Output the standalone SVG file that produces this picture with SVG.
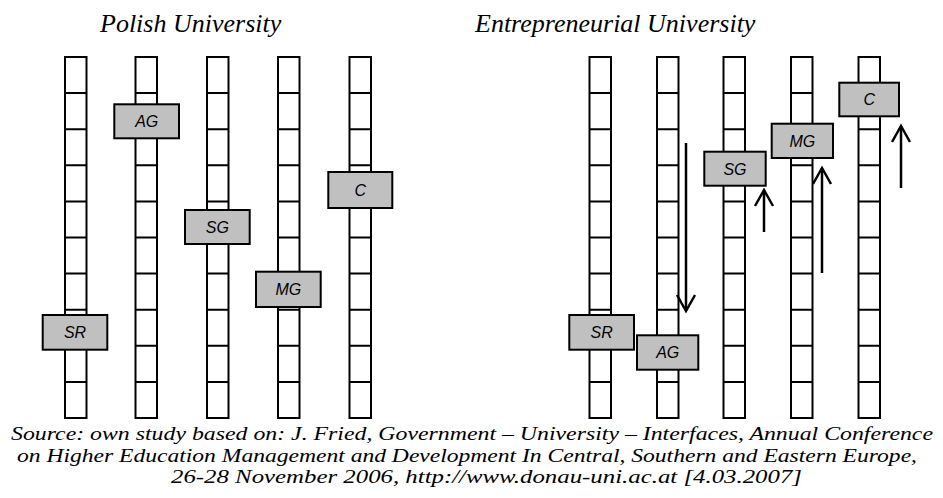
<svg xmlns="http://www.w3.org/2000/svg" xmlns:xlink="http://www.w3.org/1999/xlink" width="943" height="498" viewBox="0 0 943 498">
<style>
.lad{fill:#fff;stroke:#000;stroke-width:2}
.ln{fill:none;stroke:#000;stroke-width:2}
.box{fill:#c0c0c0;stroke:#000;stroke-width:2}
.lbl{font-family:"Liberation Sans",Arial,sans-serif;font-style:italic;font-size:16px;fill:#000;text-anchor:middle}
.title{font-family:"Liberation Serif","Times New Roman",serif;font-style:italic;font-size:26px;fill:#000}
.cap{font-family:"Liberation Serif","Times New Roman",serif;font-style:italic;font-size:19px;fill:#000;text-anchor:middle}
.arr{fill:none;stroke:#000;stroke-width:2.5}
</style>
<defs>
<g id="ladder">
<rect class="lad" x="0" y="0" width="21.5" height="361"/>
<path class="ln" d="M0,36.1h21.5M0,72.2h21.5M0,108.3h21.5M0,144.4h21.5M0,180.5h21.5M0,216.6h21.5M0,252.7h21.5M0,288.8h21.5M0,324.9h21.5"/>
</g>
<marker id="head" markerUnits="userSpaceOnUse" viewBox="-18 -11 20 22" refX="0" refY="0" markerWidth="20" markerHeight="22" orient="auto" overflow="visible">
<path d="M-16,-9L0,0L-16,9" fill="none" stroke="#000" stroke-width="2.5"/>
</marker>
</defs>
<rect width="943" height="498" fill="#fff"/>
<text class="title" x="100" y="32">Polish University</text>
<text class="title" x="475" y="32">Entrepreneurial University</text>

<g id="left-col-1"><use xlink:href="#ladder" x="65" y="57"/></g>
<g id="left-col-2"><use xlink:href="#ladder" x="135.5" y="57"/></g>
<g id="left-col-3"><use xlink:href="#ladder" x="207" y="57"/></g>
<g id="left-col-4"><use xlink:href="#ladder" x="278" y="57"/></g>
<g id="left-col-5"><use xlink:href="#ladder" x="349.5" y="57"/></g>

<g id="right-col-1"><use xlink:href="#ladder" x="589.5" y="57"/></g>
<g id="right-col-2"><use xlink:href="#ladder" x="657" y="57"/></g>
<g id="right-col-3"><use xlink:href="#ladder" x="723.5" y="57"/></g>
<g id="right-col-4"><use xlink:href="#ladder" x="791" y="57"/></g>
<g id="right-col-5"><use xlink:href="#ladder" x="858.5" y="57"/></g>

<g id="left-AG"><rect class="box" x="114.3" y="104.3" width="64.7" height="34"/><text class="lbl" x="146.7" y="127">AG</text></g>
<g id="left-SG"><rect class="box" x="185" y="210" width="64.7" height="34"/><text class="lbl" x="217.3" y="232.7">SG</text></g>
<g id="left-MG"><rect class="box" x="256" y="271.7" width="64.7" height="35.3"/><text class="lbl" x="288.3" y="295">MG</text></g>
<g id="left-C"><rect class="box" x="328.3" y="172" width="64" height="36"/><text class="lbl" x="360.3" y="195.7">C</text></g>
<g id="left-SR"><rect class="box" x="42.7" y="315" width="64.6" height="34.7"/><text class="lbl" x="75" y="338">SR</text></g>

<g id="right-SR"><rect class="box" x="569.3" y="315" width="64.7" height="34.7"/><text class="lbl" x="601.7" y="338">SR</text></g>
<g id="right-AG"><rect class="box" x="637" y="335.3" width="61.3" height="34.4"/><text class="lbl" x="667.7" y="358.3">AG</text></g>
<g id="right-SG"><rect class="box" x="704.3" y="151.7" width="61.4" height="34"/><text class="lbl" x="735" y="174.5">SG</text></g>
<g id="right-MG"><rect class="box" x="771.7" y="123.7" width="61.3" height="34.3"/><text class="lbl" x="802.3" y="146.5">MG</text></g>
<g id="right-C"><rect class="box" x="839.3" y="82.7" width="59.7" height="33.6"/><text class="lbl" x="869.2" y="105.3">C</text></g>

<g id="connectors">
<path class="arr" d="M686,143V311" marker-end="url(#head)"/>
<path class="arr" d="M764,232V190" marker-end="url(#head)"/>
<path class="arr" d="M822,273V168" marker-end="url(#head)"/>
<path class="arr" d="M901,188V126" marker-end="url(#head)"/>
</g>

<text class="cap" x="472" y="440" textLength="922" lengthAdjust="spacingAndGlyphs">Source: own study based on: J. Fried, Government – University – Interfaces, Annual Conference</text>
<text class="cap" x="467" y="461.5" textLength="900" lengthAdjust="spacingAndGlyphs">on Higher Education Management and Development In Central, Southern and Eastern Europe,</text>
<text class="cap" x="486.5" y="483" textLength="631" lengthAdjust="spacingAndGlyphs">26-28 November 2006, http://www.donau-uni.ac.at [4.03.2007]</text>
</svg>
